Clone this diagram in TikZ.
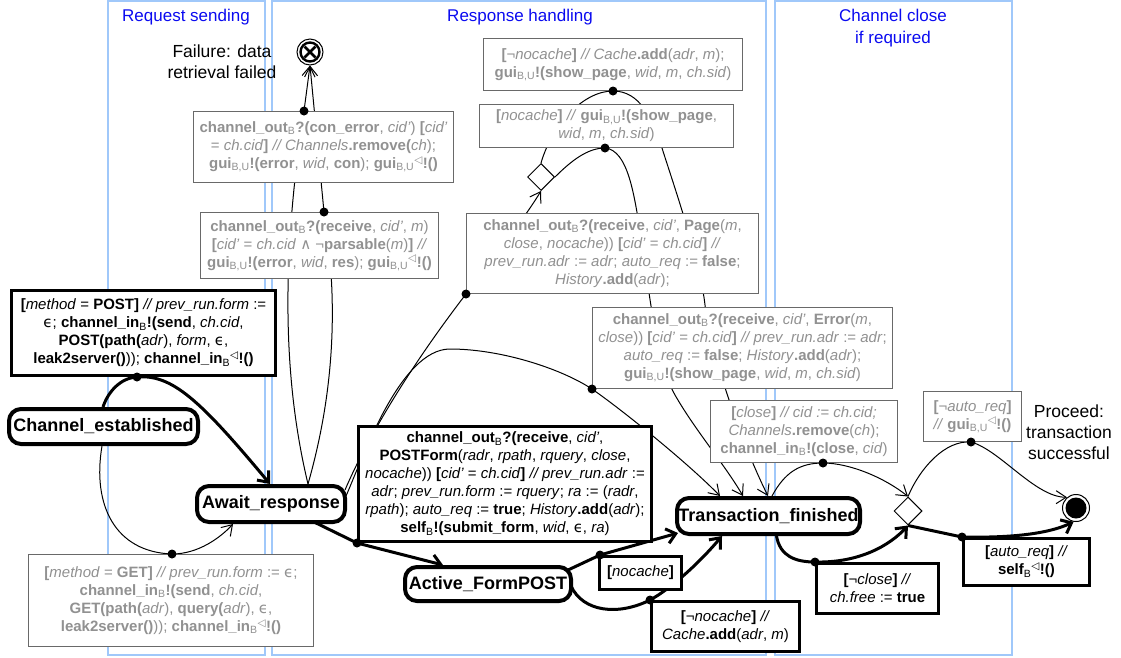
\documentclass[tikz,border=0pt]{standalone}
\usepackage{fontspec}
\setmainfont{Liberation Sans}
\newfontfamily\symf{DejaVu Sans}
\usetikzlibrary{arrows.meta,shapes.geometric}

\pgfdeclarelayer{lanes}
\pgfdeclarelayer{edges}
\pgfsetlayers{lanes,edges,main}

\definecolor{laneblue}{RGB}{160,200,250}
\definecolor{titleblue}{RGB}{10,10,240}
\definecolor{gborder}{RGB}{105,105,105}
\definecolor{gtext}{RGB}{145,145,145}

% markup for the transition labels
\newcommand\kw[1]{\textbf{#1}}
\newcommand\va[1]{\textit{#1}}
\newcommand\sB{\textsubscript{B}}
\newcommand\sBU{\textsubscript{B,U}}
\newcommand\tri{\textsuperscript{\symf ◁}}
\newcommand\eps{{\symf ϵ}}
\newcommand\band{{\symf ∧}}

\tikzset{
  state/.style={draw, line width=4pt, rounded corners=12pt, fill=white, inner sep=0pt,
    font=\fontsize{18}{20}\selectfont\bfseries},
  gbox/.style={draw=gborder, line width=1.2pt, fill=white, text=gtext, align=center,
    inner sep=1pt, font=\fontsize{15}{18}\selectfont},
  bbox/.style={draw=black, line width=3pt, fill=white, text=black, align=center,
    inner sep=1pt, font=\fontsize{15}{18}\selectfont},
  lane/.style={draw=laneblue, line width=1.5pt},
  lanetitle/.style={text=titleblue, font=\fontsize{17}{22}\selectfont, align=center},
  note/.style={font=\fontsize{17.5}{21}\selectfont, align=center},
  choice/.style={diamond, draw, line width=1pt, fill=white, inner sep=0pt, aspect=1},
  edge/.style={line width=1pt},
  edgearr/.style={line width=1pt, -{Straight Barb[length=10pt,width=13pt]}},
  heavyedge/.style={line width=3pt},
  heavyarr/.style={line width=3pt, -{Straight Barb[length=9pt,width=15pt]}},
  dotfill/.style={fill=black},
}

\begin{document}
\begin{tikzpicture}[x=1pt,y=-1pt]
\useasboundingbox (0,0) rectangle (1121,657);

% swimlanes
\begin{pgfonlayer}{lanes}
  \draw[lane] (108,1) rectangle (265,655);
  \draw[lane] (272,1) rectangle (766,655);
  \draw[lane] (775,1) rectangle (1012,655);
\end{pgfonlayer}
\node[lanetitle] (t1) at (186,17) {Request sending};
\node[lanetitle] (t2) at (520,17) {Response handling};
\node[lanetitle] (t3) at (893,28) {Channel close\\if required};

% states
\node[state, minimum width=189pt, minimum height=35pt] (ce) at (103.5,426.5) {Channel\_established};
\node[state, minimum width=148pt, minimum height=36pt] (aw) at (271,504) {Await\_response};
\node[state, minimum width=166pt, minimum height=34pt] (af) at (488,584) {Active\_FormPOST};
\node[state, minimum width=183pt, minimum height=36pt] (tf) at (768.5,516) {Transaction\_finished};

% final states
\node[circle, draw, line width=1pt, fill=white, minimum size=26pt, inner sep=0pt] (fail) at (310,52) {};
\draw[line width=2.4pt] (fail.center) circle[radius=9.5pt];
\draw[line width=2.6pt] ([shift={(-5.5pt,-5.5pt)}]fail.center) -- ([shift={(5.5pt,5.5pt)}]fail.center)
                        ([shift={(-5.5pt,5.5pt)}]fail.center) -- ([shift={(5.5pt,-5.5pt)}]fail.center);
\node[circle, draw, line width=1pt, fill=white, minimum size=27pt, inner sep=0pt] (final) at (1076,508) {};
\fill (final.center) circle[radius=10.5pt];

\node[note] (failtxt) at (222,62) {Failure: data\\retrieval failed};
\node[note] (oktxt) at (1069,432) {Proceed:\\transaction\\successful};

% choice points
\node[choice, minimum width=27pt, minimum height=27pt] (dia1) at (541,177) {};
\node[choice, minimum width=28pt, minimum height=28pt] (dia2) at (908,511) {};

% transition labels
\node[bbox, minimum width=264pt, minimum height=85pt] (bpost) at (143.5,333)
 {\kw{[}\va{method} = \kw{POST]} \va{// prev\_run.form} :=\\
  \eps; \kw{channel\_in}\sB\kw{!(send}, \va{ch.cid},\\
  \kw{POST(path(}\va{adr}), \va{form}, \eps,\\
  \kw{leak2server()})); \kw{channel\_in}\sB\tri\kw{!()}};

\node[gbox, minimum width=285pt, minimum height=92pt] (bget) at (171,600.5)
 {\kw{[}\va{method} = \kw{GET]} \va{// prev\_run.form} := \eps;\\
  \kw{channel\_in}\sB\kw{!(send}, \va{ch.cid},\\
  \kw{GET(path(}\va{adr}), \kw{query(}\va{adr}), \eps,\\
  \kw{leak2server()})); \kw{channel\_in}\sB\tri\kw{!()}};

\node[gbox, minimum width=260pt, minimum height=71pt] (bcon) at (323.5,147)
 {\kw{channel\_out}\sB\kw{?(con\_error}, \va{cid’}) \kw{[}\va{cid’}\\
  = \va{ch.cid}\kw{]} \va{// Channels}\kw{.remove(}\va{ch});\\
  \kw{gui}\sBU\kw{!(error}, \va{wid}, \kw{con}); \kw{gui}\sBU\tri\kw{!()}};

\node[gbox, minimum width=238pt, minimum height=66pt] (bpar) at (319.5,245.5)
 {\kw{channel\_out}\sB\kw{?(receive}, \va{cid’}, \va{m})\\
  \kw{[}\va{cid’} = \va{ch.cid} \band{} ¬\kw{parsable}(\va{m})\kw{]} \va{//}\\
  \kw{gui}\sBU\kw{!(error}, \va{wid}, \kw{res}); \kw{gui}\sBU\tri\kw{!()}};

\node[gbox, minimum width=259pt, minimum height=52pt] (bnnc) at (613,64.5)
 {\kw{[}¬\va{nocache}\kw{]} \va{// Cache}\kw{.add}(\va{adr}, \va{m});\\
  \kw{gui}\sBU\kw{!(show\_page}, \va{wid}, \va{m}, \va{ch.sid})};

\node[gbox, minimum width=254pt, minimum height=43pt] (bnc) at (606.5,126)
 {\kw{[}\va{nocache}\kw{]} \va{//} \kw{gui}\sBU\kw{!(show\_page},\\
  \va{wid}, \va{m}, \va{ch.sid})};

\node[gbox, minimum width=292pt, minimum height=80pt] (bpage) at (612.5,253.5)
 {\kw{channel\_out}\sB\kw{?(receive}, \va{cid’}, \kw{Page}(\va{m},\\
  \va{close}, \va{nocache})) \kw{[}\va{cid’} = \va{ch.cid}\kw{]} \va{//}\\
  \va{prev\_run.adr} := \va{adr}; \va{auto\_req} := \kw{false};\\
  \va{History}\kw{.add}(\va{adr});};

\node[gbox, minimum width=300pt, minimum height=81pt] (berr) at (742.5,348)
 {\kw{channel\_out}\sB\kw{?(receive}, \va{cid’}, \kw{Error}(\va{m},\\
  \va{close})) \kw{[}\va{cid’} = \va{ch.cid}\kw{]} \va{// prev\_run.adr} := \va{adr};\\
  \va{auto\_req} := \kw{false}; \va{History}\kw{.add}(\va{adr});\\
  \kw{gui}\sBU\kw{!(show\_page}, \va{wid}, \va{m}, \va{ch.sid})};

\node[bbox, minimum width=293pt, minimum height=115pt] (bform) at (505,484)
 {\kw{channel\_out}\sB\kw{?(receive}, \va{cid’},\\
  \kw{POSTForm}(\va{radr}, \va{rpath}, \va{rquery}, \va{close},\\
  \va{nocache})) \kw{[}\va{cid’} = \va{ch.cid}\kw{]} \va{// prev\_run.adr} :=\\
  \va{adr}; \va{prev\_run.form} := \va{rquery}; \va{ra} := (\va{radr},\\
  \va{rpath}); \va{auto\_req} := \kw{true}; \va{History}\kw{.add}(\va{adr});\\
  \kw{self}\sB\kw{!(submit\_form}, \va{wid}, \eps, \va{ra})};

\node[gbox, minimum width=187pt, minimum height=62pt] (bclose) at (804,431.5)
 {\kw{[}\va{close}\kw{]} \va{// cid := ch.cid;}\\
  \va{Channels}\kw{.remove}(\va{ch});\\
  \kw{channel\_in}\sB\kw{!(close}, \va{cid})};

\node[gbox, minimum width=98pt, minimum height=50pt] (bnauto) at (972.5,416.5)
 {\kw{[}¬\va{auto\_req}\kw{]}\\
  \va{//} \kw{gui}\sBU\tri\kw{!()}};

\node[bbox, minimum width=82pt, minimum height=33pt] (bnc2) at (640.5,573)
 {\kw{[}\va{nocache}\kw{]}};

\node[bbox, minimum width=148pt, minimum height=50pt] (bnnc2) at (725.5,626.5)
 {\kw{[}¬\va{nocache}\kw{]} \va{//}\\
  \va{Cache}\kw{.add}(\va{adr}, \va{m})};

\node[bbox, minimum width=122pt, minimum height=50pt] (bnclose) at (877.5,588.5)
 {\kw{[}¬\va{close}\kw{]} \va{//}\\
  \va{ch.free} := \kw{true}};

\node[bbox, minimum width=126pt, minimum height=47pt] (bauto) at (1026.5,562)
 {\kw{[}\va{auto\_req}\kw{]} \va{//}\\
  \kw{self}\sB\tri\kw{!()}};

% points where transitions leave their labels
\coordinate (dpost) at (137,377);
\coordinate (dget) at (172,554);
\coordinate (dcon) at (304,111);
\coordinate (dpar) at (324,212);
\coordinate (dpage) at (466,294);
\coordinate (derr) at (592,389);
\coordinate (dform) at (357,543);
\coordinate (dnnc) at (613,91);
\coordinate (dnc) at (605,148);
\coordinate (dclose) at (823,463);
\coordinate (dnc2) at (600,555);
\coordinate (dnnc2) at (650,600);
\coordinate (dnclose) at (815,562);
\coordinate (dauto) at (962,537);
\coordinate (dnauto) at (971,442);

\begin{pgfonlayer}{edges}
  % request sending
  \draw[heavyedge] ([xshift=-0.5pt]ce.north) .. controls (108,392) and (120,378) .. (dpost);
  \draw[heavyarr] (dpost) .. controls (172,374) and (200,400) .. ([xshift=-1pt]aw.north);
  \draw[edge] ([xshift=-1.5pt]ce.south) .. controls (92,505) and (115,552) .. (dget);
  \draw[edgearr] (dget) .. controls (198,554) and (220,538) .. ([xshift=-38pt]aw.south);

  % failures
  \draw[edge] ([xshift=37pt]aw.north) .. controls (283,380) and (281,260) .. (dcon);
  \draw[edgearr] (dcon) -- (fail.south);
  \draw[edge] ([xshift=37pt]aw.north) .. controls (332,400) and (340,310) .. (dpar);
  \draw[edgearr] (dpar) -- (fail.south);

  % page received
  \draw[edge] ([shift={(-2pt,14pt)}]aw.east) .. controls (362,450) and (400,380) .. (dpage);
  \draw[edgearr] (dpage) .. controls (495,255) and (522,222) .. (dia1.south);
  \draw[edge] (dia1.east) .. controls (572,160) and (588,148) .. (dnc);
  \draw[edgearr] (dnc) .. controls (628,150) and (634,195) .. (640,230)
                       .. controls (648,280) and (655,360) .. (675,395)
                       .. controls (695,430) and (725,465) .. ([xshift=-25.5pt]tf.north);
  \draw[edge] (dia1.north) .. controls (552,125) and (583,91) .. (dnnc);
  \draw[edgearr] (dnnc) .. controls (640,91) and (652,118) .. (662,148)
                        .. controls (672,180) and (700,260) .. (705,305)
                        .. controls (710,350) and (740,440) .. ([xshift=-0.5pt]tf.north);

  % error page received
  \draw[edge] ([shift={(-1pt,8pt)}]aw.east) .. controls (362,460) and (400,349) .. (450,349)
                        .. controls (500,349) and (560,368) .. (derr);
  \draw[edgearr] (derr) .. controls (625,412) and (690,465) .. ([xshift=-48.5pt]tf.north);

  % form submission
  \draw[heavyedge] ([shift={(41pt,3pt)}]aw.south) -- (dform);
  \draw[heavyarr] (dform) -- ([xshift=-45pt]af.north);
  \draw[heavyedge] ([shift={(-5pt,14pt)}]af.east) -- (dnc2);
  \draw[heavyarr] (dnc2) -- ([shift={(3pt,3pt)}]tf.south west);
  \draw[heavyedge] ([shift={(-2pt,-2pt)}]af.east) .. controls (583,612) and (618,616) .. (dnnc2);
  \draw[heavyarr] (dnnc2) .. controls (672,588) and (700,562) .. ([xshift=-46.5pt]tf.south);

  % channel close
  \draw[edge] ([xshift=3.5pt]tf.north) .. controls (785,472) and (800,463) .. (dclose);
  \draw[edgearr] (dclose) .. controls (850,463) and (885,478) .. (dia2.north);
  \draw[heavyedge] ([xshift=8pt]tf.south) .. controls (780,556) and (795,562) .. (dnclose);
  \draw[heavyarr] (dnclose) .. controls (860,563) and (890,545) .. (dia2.south);

  % proceed
  \draw[heavyedge] (dia2.south) -- (dauto);
  \draw[heavyarr] (dauto) .. controls (1010,538) and (1048,534) .. (final.260);
  \draw[edge] (dia2.north) .. controls (920,468) and (945,440) .. (dnauto);
  \draw[edgearr] (dnauto) .. controls (1000,450) and (1035,497) .. (final.130);
\end{pgfonlayer}

% label attachment dots
\foreach \p in {dpost,dget,dcon,dpar,dpage,derr,dform,dnnc,dnc,dclose,dnc2,dnnc2,dnclose,dauto,dnauto}
  \fill[dotfill] (\p) circle[radius=4.5pt];

\end{tikzpicture}
\end{document}
